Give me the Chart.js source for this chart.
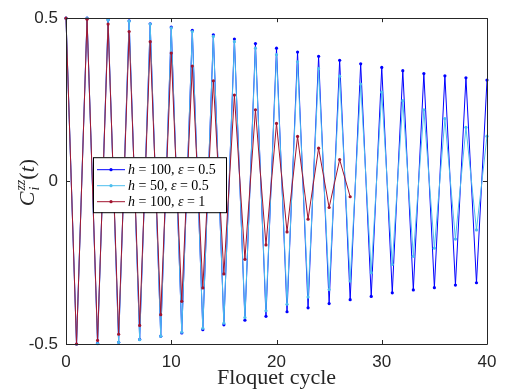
<!DOCTYPE html>
<html>
<head>
<meta charset="utf-8">
<script src="https://cdn.jsdelivr.net/npm/chart.js@4"></script>
<style>
  html, body { margin: 0; padding: 0; background: #fff; }
  #wrap { width: 506px; height: 390px; }
</style>
</head>
<body>
<div id="wrap"><canvas id="chart" width="506" height="390"></canvas></div>
<script>
// Floquet cycle index
const cycles = [];
for (let i = 0; i <= 40; i++) cycles.push(i);

// h = 100, eps = 0.5
const blueVals = [0.5, -0.5, 0.5, -0.498, 0.495, -0.495, 0.492, -0.486, 0.483, -0.476,
    0.473, -0.466, 0.463, -0.456, 0.449, -0.441, 0.436, -0.427, 0.422, -0.415,
    0.408, -0.401, 0.396, -0.389, 0.383, -0.376, 0.371, -0.364, 0.360, -0.354,
    0.349, -0.343, 0.339, -0.334, 0.330, -0.327, 0.323, -0.319, 0.317, -0.312, 0.310];

// h = 50, eps = 0.5
const cyanVals = [0.5, -0.5, 0.5, -0.499, 0.495, -0.495, 0.491, -0.487, 0.482, -0.476,
    0.470, -0.464, 0.459, -0.452, 0.444, -0.436, 0.428, -0.419, 0.408, -0.398,
    0.388, -0.378, 0.366, -0.356, 0.345, -0.333, 0.322, -0.307, 0.298, -0.281,
    0.273, -0.256, 0.247, -0.231, 0.219, -0.206, 0.192, -0.178, 0.165, -0.150, 0.138];

// h = 100, eps = 1 (stops at cycle 27)
const redVals = [0.5, -0.5, 0.497, -0.489, 0.482, -0.470, 0.459, -0.443, 0.428, -0.410,
    0.393, -0.369, 0.353, -0.328, 0.308, -0.285, 0.264, -0.240, 0.219, -0.196,
    0.177, -0.156, 0.137, -0.117, 0.101, -0.081, 0.066, -0.048];

const xTicks = [0, 10, 20, 30, 40];
const yTicks = [-0.5, 0, 0.5];

const seriesNames = [
    ["h", " = 100, ", "\u03b5", " = 0.5"],
    ["h", " = 50, ", "\u03b5", " = 0.5"],
    ["h", " = 100, ", "\u03b5", " = 1"]
];
const colors = ["#0000ff", "#4dbeee", "#a2142f"];

const toPts = vals => vals.map((v, i) => ({ x: cycles[i], y: v }));
const axisColor = "#262626";

// inward ticks on all four sides + box
const boxTicks = {
    id: "boxTicks",
    afterDatasetsDraw(chart) {
        const { ctx, chartArea: a, scales } = chart;
        ctx.save();
        ctx.strokeStyle = axisColor;
        ctx.lineWidth = 1;
        ctx.beginPath();
        ctx.rect(Math.round(a.left) + 0.5, Math.round(a.top) + 0.5,
                 Math.round(a.right - a.left), Math.round(a.bottom - a.top));
        xTicks.forEach(t => {
            const px = Math.round(scales.x.getPixelForValue(t)) + 0.5;
            ctx.moveTo(px, a.bottom); ctx.lineTo(px, a.bottom - 4);
            ctx.moveTo(px, a.top); ctx.lineTo(px, a.top + 4);
        });
        yTicks.forEach(t => {
            const py = Math.round(scales.y.getPixelForValue(t)) + 0.5;
            ctx.moveTo(a.left, py); ctx.lineTo(a.left + 4, py);
            ctx.moveTo(a.right, py); ctx.lineTo(a.right - 4, py);
        });
        ctx.stroke();
        ctx.restore();
    }
};

function drawParts(ctx, parts, x, y) {
    parts.forEach(p => {
        ctx.font = p.font;
        ctx.fillText(p.t, x, y + (p.dy || 0));
        x += ctx.measureText(p.t).width;
    });
    return x;
}

// legend box + axis labels
const labelsPlugin = {
    id: "labelsPlugin",
    afterDraw(chart) {
        const { ctx, chartArea: a } = chart;
        ctx.save();
        // legend
        const lx = a.left + 27, ly = a.top + 139, lw = 133, lh = 55;
        ctx.fillStyle = "#fff";
        ctx.fillRect(lx, ly, lw, lh);
        ctx.strokeStyle = "#000";
        ctx.lineWidth = 1;
        ctx.strokeRect(lx + 0.5, ly + 0.5, lw, lh);
        const it = "italic 14px 'Liberation Serif'";
        const up = "14px 'Liberation Serif'";
        seriesNames.forEach((n, i) => {
            const yy = ly + 12 + i * 16;
            ctx.strokeStyle = colors[i];
            ctx.beginPath();
            ctx.moveTo(lx + 4, yy + 0.5); ctx.lineTo(lx + 32, yy + 0.5);
            ctx.stroke();
            ctx.fillStyle = colors[i];
            ctx.beginPath();
            ctx.arc(lx + 18, yy + 0.5, 1.6, 0, Math.PI * 2);
            ctx.fill();
            ctx.fillStyle = "#000";
            ctx.textBaseline = "middle";
            drawParts(ctx, [
                { t: n[0], font: it }, { t: n[1], font: up },
                { t: n[2], font: it }, { t: n[3], font: up }
            ], lx + 35, yy + 1);
        });
        // x label
        ctx.fillStyle = axisColor;
        ctx.textBaseline = "alphabetic";
        ctx.textAlign = "center";
        ctx.font = "22px 'Liberation Serif'";
        ctx.fillText("Floquet cycle", (a.left + a.right) / 2, 384);
        // y label
        ctx.textAlign = "left";
        ctx.translate(34, (a.top + a.bottom) / 2 + 2);
        ctx.rotate(-Math.PI / 2);
        const big = "italic 22px 'Liberation Serif'";
        const sm = "italic 14px 'Liberation Serif'";
        const parts = [
            { t: "C", font: big },
            { t: "zz", font: sm, dy: -9 },
            { t: "(", font: "22px 'Liberation Serif'" },
            { t: "t", font: big },
            { t: ")", font: "22px 'Liberation Serif'" }
        ];
        let w = 0;
        parts.forEach(p => { ctx.font = p.font; w += ctx.measureText(p.t).width; });
        let x0 = -w / 2;
        ctx.font = big;
        ctx.fillText("C", x0, 0);
        const cw = ctx.measureText("C").width;
        ctx.font = sm;
        ctx.fillText("i", x0 + cw + 1, 5);
        drawParts(ctx, parts.slice(1), x0 + cw + 1, 0);
        ctx.restore();
    }
};

const mk = (label, vals, color, order) => ({
    label,
    data: toPts(vals),
    borderColor: color,
    backgroundColor: color,
    borderWidth: 1,
    pointRadius: 1.6,
    pointBorderWidth: 0,
    pointHoverRadius: 2,
    tension: 0,
    fill: false,
    clip: false,
    order
});

new Chart(document.getElementById("chart"), {
    type: "line",
    data: {
        datasets: [
            mk("h = 100, eps = 0.5", blueVals, colors[0], 3),
            mk("h = 50, eps = 0.5", cyanVals, colors[1], 2),
            mk("h = 100, eps = 1", redVals, colors[2], 1)
        ]
    },
    options: {
        responsive: false,
        animation: false,
        layout: { padding: { left: 0, right: 19, top: 13, bottom: 0 } },
        plugins: { legend: { display: false }, tooltip: { enabled: false } },
        scales: {
            x: {
                type: "linear",
                min: 0, max: 40,
                afterFit: s => { s.height = 46; },
                afterBuildTicks: s => { s.ticks = xTicks.map(v => ({ value: v })); },
                grid: { display: false, drawTicks: false },
                border: { display: false },
                ticks: { color: axisColor, padding: 8, maxRotation: 0,
                         font: { family: "'Liberation Sans', Arial", size: 17 } }
            },
            y: {
                min: -0.5, max: 0.5,
                afterFit: s => { s.width = 66; },
                afterBuildTicks: s => { s.ticks = yTicks.map(v => ({ value: v })); },
                grid: { display: false, drawTicks: false },
                border: { display: false },
                ticks: { color: axisColor, padding: 8,
                         font: { family: "'Liberation Sans', Arial", size: 17 },
                         callback: v => v === 0 ? "0" : String(v) }
            }
        }
    },
    plugins: [boxTicks, labelsPlugin]
});
</script>
</body>
</html>
